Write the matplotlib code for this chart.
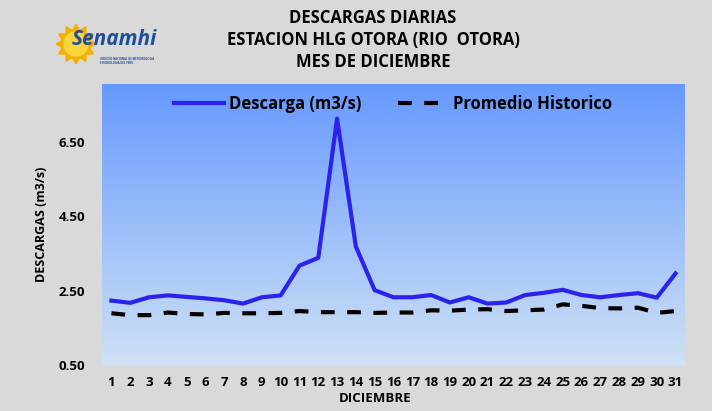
import numpy as np
import matplotlib
matplotlib.use("Agg")
import matplotlib.pyplot as plt
from matplotlib.colors import LinearSegmentedColormap
from matplotlib.patches import Polygon, Circle

# daily data, december
dias = list(range(1, 32))
descarga = [2.23, 2.17, 2.32, 2.37, 2.33, 2.29, 2.24, 2.15, 2.32, 2.37,
            3.17, 3.38, 7.12, 3.68, 2.51, 2.32, 2.32, 2.38, 2.18, 2.32,
            2.15, 2.18, 2.38, 2.44, 2.52, 2.38, 2.32, 2.38, 2.43, 2.31, 2.96]
promedio = [1.89, 1.84, 1.84, 1.91, 1.87, 1.86, 1.90, 1.89, 1.89, 1.90,
            1.95, 1.92, 1.92, 1.92, 1.90, 1.91, 1.91, 1.97, 1.96, 1.99,
            2.00, 1.95, 1.97, 1.99, 2.13, 2.09, 2.03, 2.02, 2.04, 1.90, 1.95]
yticks = [0.5, 2.5, 4.5, 6.5]

plt.rcParams['font.family'] = ['Open Sans', 'DejaVu Sans']
plt.rcParams['font.weight'] = 'bold'

fig = plt.figure(figsize=(7.12, 4.11), dpi=100, facecolor='#d9d9d9')
ax = fig.add_axes([0.1433, 0.1119, 0.8187, 0.6837])

# gradient background of the plot area
cmap = LinearSegmentedColormap.from_list('bg', ['#cfe1f4', '#6699ff'])
grad = np.linspace(0, 1, 256).reshape(-1, 1)
ax.imshow(grad, cmap=cmap, aspect='auto', origin='lower',
          extent=[0, 1, 0, 1], transform=ax.transAxes, zorder=0)

ax.plot(dias, descarga, color='#2b22ee', lw=3, solid_joinstyle='round',
        label='Descarga (m3/s)', zorder=3)
ax.plot(dias, promedio, color='black', lw=3, dashes=(3.3, 3),
        dash_capstyle='butt', label='Promedio Historico', zorder=3)

ax.set_xlim(0.5, 31.5)
ax.set_ylim(0.5, 8.05)
ax.set_xticks(dias)
ax.set_xticklabels([str(d) for d in dias], fontsize=9.5, fontweight='bold')
ax.set_yticks(yticks)
ax.set_yticklabels(['%.2f' % v for v in yticks], fontsize=9.5, fontweight='bold')
ax.tick_params(length=0)
ax.tick_params(axis='y', pad=12)
ax.tick_params(axis='x', pad=8)
for s in ax.spines.values():
    s.set_visible(False)

ax.set_xlabel('DICIEMBRE', fontsize=9.5, fontweight='bold')
ax.xaxis.set_label_coords(0.468, -0.095)
ax.set_ylabel('DESCARGAS (m3/s)', fontsize=9, fontweight='bold')
ax.yaxis.set_label_coords(-0.092, 0.5)

ax.legend(loc='upper center', ncol=2, frameon=False,
          prop={'weight': 'bold', 'size': 12}, handlelength=3.0,
          handletextpad=0.3, columnspacing=2.2, bbox_to_anchor=(0.5, 1.015))

# title
fig.text(0.524, 0.955, 'DESCARGAS DIARIAS', ha='center', va='center',
         fontsize=12, fontweight='bold')
fig.text(0.524, 0.902, 'ESTACION HLG OTORA (RIO  OTORA)', ha='center',
         va='center', fontsize=12, fontweight='bold')
fig.text(0.524, 0.849, 'MES DE DICIEMBRE', ha='center', va='center',
         fontsize=12, fontweight='bold')

# rough senamhi logo
lax = fig.add_axes([56 / 712, 1 - 64 / 411, 40 / 712, 40 / 411])
lax.set_xlim(-1, 1)
lax.set_ylim(-1, 1)
lax.axis('off')
ang = np.linspace(0, 2 * np.pi, 25)[:-1]
r = np.where(np.arange(24) % 2 == 0, 1.0, 0.7)
pts = np.column_stack([r * np.cos(ang), r * np.sin(ang)])
lax.add_patch(Polygon(pts, closed=True, color='#f5b000'))
lax.add_patch(Circle((0, 0), 0.6, color='#fcd43c'))
fig.text(0.101, 0.903, 'Senamhi', fontsize=15, fontweight='bold',
         style='italic', color='#1f4e9a', va='center')
fig.text(0.14, 0.852, 'SERVICIO NACIONAL DE METEOROLOGIA\nE HIDROLOGIA DEL PERU',
         fontsize=2, color='#1f4e9a', va='center')

fig.savefig('out.png', dpi=100, facecolor=fig.get_facecolor())
